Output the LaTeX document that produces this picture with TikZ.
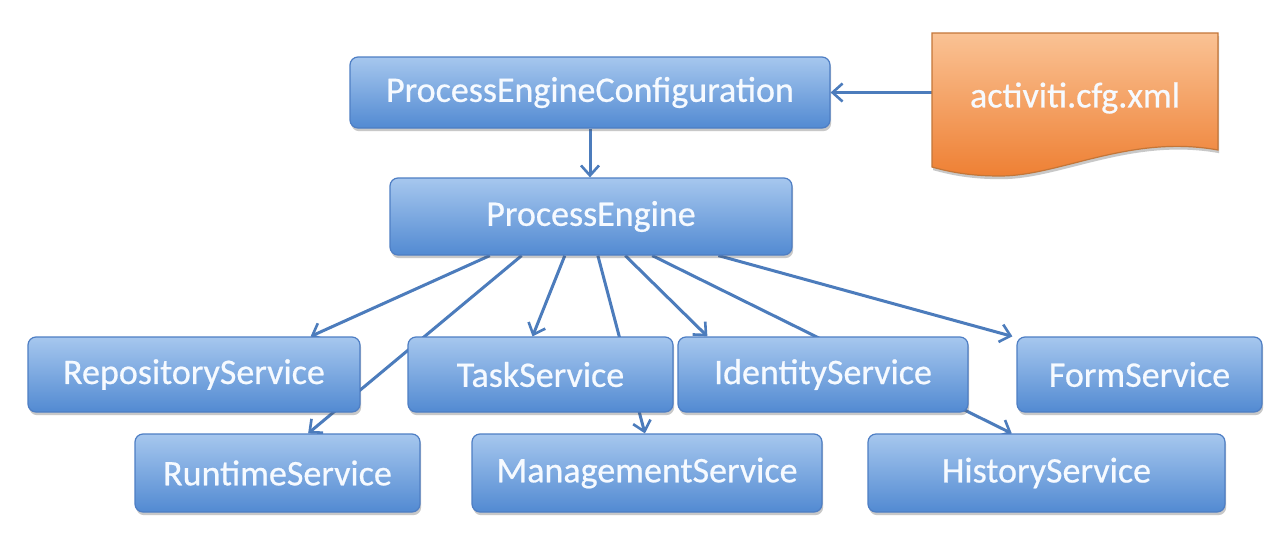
\documentclass[tikz,border=0pt]{standalone}
\usepackage{fontspec}
\setmainfont{Carlito}
\newfontfamily\boxfont[FakeBold=0.6]{Carlito}
\usetikzlibrary{arrows.meta,shadows,calc,backgrounds}
\definecolor{boxtop}{RGB}{166,199,238}
\definecolor{boxbot}{RGB}{82,138,210}
\definecolor{boxline}{RGB}{78,126,196}
\definecolor{arrowcol}{RGB}{76,124,188}
\definecolor{txtcol}{RGB}{246,250,255}
\definecolor{doctop}{RGB}{250,194,148}
\definecolor{docbot}{RGB}{238,128,52}
\definecolor{docline}{RGB}{196,118,56}
\begin{document}
\begin{tikzpicture}[x=0.5pt,y=-0.5pt,
  lbl/.style={text=txtcol, font=\boxfont\fontsize{18}{22}\selectfont, inner sep=0pt},
  svc/.style={lbl, rectangle, rounded corners=4pt, draw=boxline, line width=0.6pt,
    top color=boxtop, bottom color=boxbot,
    drop shadow={shadow xshift=0.6pt, shadow yshift=-1.6pt, opacity=0.3, fill=black!70}},
  conn/.style={draw=arrowcol, line width=1.5pt,
    -{Straight Barb[length=5pt,width=9pt,line width=1.3pt]}}
]
\useasboundingbox (0,0) rectangle (1280,541);

% boxes
\node[svc, minimum width=240pt, minimum height=35.5pt] (pec) at (590,92.5) {ProcessEngineConfiguration};
\node[svc, minimum width=201pt, minimum height=38.5pt] (pe) at (591,216.5) {ProcessEngine};
\node[svc, minimum width=166pt, minimum height=37.5pt] (repo) at (194,374.5) {RepositoryService};
\node[svc, minimum width=132.5pt, minimum height=37.5pt] (task) at (540.5,374.5) {TaskService};
\node[svc, minimum width=145pt, minimum height=37.5pt] (ident) at (823,374.5) {IdentityService};
\node[svc, minimum width=122.5pt, minimum height=37.5pt] (form) at (1139.5,374.5) {FormService};
\node[svc, minimum width=142.5pt, minimum height=39pt] (run) at (277.5,473) {RuntimeService};
\node[svc, minimum width=175pt, minimum height=39pt] (mgmt) at (647,473) {ManagementService};
\node[svc, minimum width=178.5pt, minimum height=39pt] (hist) at (1046.5,473) {HistoryService};

% document shape
\path[draw=docline, line width=0.6pt, top color=doctop, bottom color=docbot,
  drop shadow={shadow xshift=0.6pt, shadow yshift=-1.6pt, opacity=0.3, fill=black!70}]
  (932,33) -- (1218,33) -- (1218,150)
  .. controls (1130,134) and (1060,176) .. (1000,176)
  .. controls (970,176) and (950,172) .. (932,167) -- cycle;
\node[lbl, minimum width=143pt, minimum height=40pt] (doc) at (1075,98) {activiti.cfg.xml};

% connectors
\begin{scope}[on background layer]
\fill[white] (0,0) rectangle (1280,541);
\draw[conn] (doc.west |- pec.east) -- (pec.east);
\draw[conn] (pec.south) -- (pec.south |- pe.north);
\draw[conn] ($(pe.south west)!0.249!(pe.south east)$) -- ($(repo.north west)!0.85!(repo.north east)$);
\draw[conn] ($(pe.south west)!0.328!(pe.south east)$) -- ($(run.north west)!0.607!(run.north east)$);
\draw[conn] ($(pe.south west)!0.435!(pe.south east)$) -- ($(task.north west)!0.47!(task.north east)$);
\draw[conn] ($(pe.south west)!0.517!(pe.south east)$) -- ($(mgmt.north west)!0.494!(mgmt.north east)$);
\draw[conn] ($(pe.south west)!0.585!(pe.south east)$) -- ($(ident.north west)!0.103!(ident.north east)$);
\draw[conn] ($(pe.south west)!0.652!(pe.south east)$) -- ($(hist.north west)!0.403!(hist.north east)$);
\draw[conn] ($(pe.south west)!0.816!(pe.south east)$) -- ($(form.north west)+(-4,0)$);
\end{scope}
\end{tikzpicture}
\end{document}
